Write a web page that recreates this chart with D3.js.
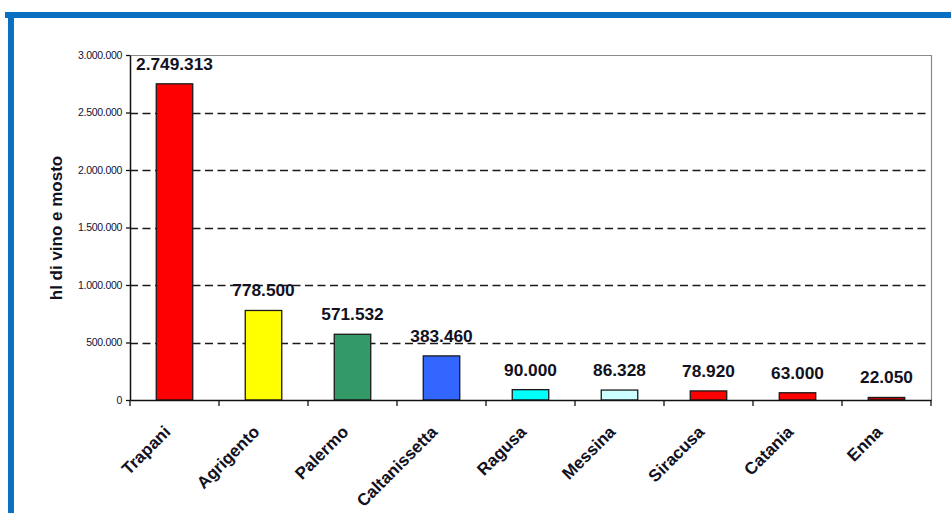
<!DOCTYPE html>
<html>
<head>
<meta charset="utf-8">
<script src="https://cdn.jsdelivr.net/npm/d3@7"></script>
<style>
  html, body { margin: 0; padding: 0; background: #fff; }
  svg { display: block; font-family: Arial, "Liberation Sans", sans-serif; }
</style>
</head>
<body>
<svg id="chart" width="951" height="513"></svg>
<script>
// Wine and must production by province (hl)
const provinces = ["Trapani", "Agrigento", "Palermo", "Caltanissetta", "Ragusa", "Messina", "Siracusa", "Catania", "Enna"];
const production = [2749313, 778500, 571532, 383460, 90000, 86328, 78920, 63000, 22050];
const barColors = ["#FF0000", "#FFFF00", "#339966", "#3366FF", "#00FFFF", "#CCFFFF", "#FF0000", "#FF0000", "#C00000"];
const yTicks = [0, 500000, 1000000, 1500000, 2000000, 2500000, 3000000];
const yTitle = "hl di vino e mosto";

const svg = d3.select("#chart");
const plot = { left: 130, right: 931, top: 55, bottom: 400 };

// Italian-style thousands separator
const fmt = d3.formatLocale({ decimal: ",", thousands: ".", grouping: [3], currency: ["€", ""] }).format(",d");

// Frame
svg.append("rect").attr("x", 5).attr("y", 12).attr("width", 946).attr("height", 6).attr("fill", "#0A70C2");
svg.append("rect").attr("x", 8).attr("y", 12).attr("width", 6).attr("height", 501).attr("fill", "#0A70C2");

const x = d3.scaleBand().domain(provinces).range([plot.left, plot.right]).paddingInner(0.59).paddingOuter(0.295);
const xTickScale = d3.scaleBand().domain(provinces).range([plot.left, plot.right]);
const y = d3.scaleLinear().domain([0, 3000000]).range([plot.bottom, plot.top]);

// Dashed gridlines
svg.append("g").selectAll("line")
  .data(yTicks.filter(t => t > 0 && t < 3000000))
  .join("line")
  .attr("x1", plot.left).attr("x2", plot.right - 3)
  .attr("y1", d => Math.round(y(d)) + 0.5).attr("y2", d => Math.round(y(d)) + 0.5)
  .attr("stroke", "#1a1a1a").attr("stroke-width", 1.4).attr("stroke-dasharray", "8,4.5");

// Plot border (top & right)
svg.append("path")
  .attr("d", `M${plot.left},${plot.top + 0.5}H${plot.right + 0.5}V${plot.bottom}`)
  .attr("fill", "none").attr("stroke", "#8a8a8a").attr("stroke-width", 1.2);

// Bars
svg.append("g").selectAll("rect")
  .data(provinces)
  .join("rect")
  .attr("x", d => x(d))
  .attr("width", x.bandwidth())
  .attr("y", (d, i) => y(production[i]))
  .attr("height", (d, i) => plot.bottom - y(production[i]))
  .attr("fill", (d, i) => barColors[i])
  .attr("stroke", "#1a1a1a").attr("stroke-width", 1.3);

// Value labels
svg.append("g").selectAll("text")
  .data(provinces)
  .join("text")
  .attr("x", d => x(d) + x.bandwidth() / 2)
  .attr("y", (d, i) => y(production[i]) - 14)
  .attr("text-anchor", "middle")
  .attr("font-size", 17.3).attr("font-weight", "bold").attr("fill", "#111122")
  .text((d, i) => fmt(production[i]));

// Y axis
const yAxis = svg.append("g")
  .attr("transform", `translate(${plot.left},0)`)
  .call(d3.axisLeft(y).tickValues(yTicks).tickFormat(fmt).tickSize(4).tickSizeOuter(0));
yAxis.select(".domain").attr("stroke", "#111").attr("stroke-width", 1.5);
yAxis.selectAll(".tick line").attr("stroke", "#111").attr("stroke-width", 1.3);
yAxis.selectAll(".tick text").attr("font-size", 10.5).attr("fill", "#111133").attr("x", -8)
  .attr("font-family", "Arial, 'Liberation Sans', sans-serif").attr("letter-spacing", "-0.3");

// X axis
const xAxis = svg.append("g")
  .attr("transform", `translate(0,${plot.bottom})`)
  .call(d3.axisBottom(xTickScale).tickSize(0).tickFormat(""));
xAxis.select(".domain").attr("stroke", "#111").attr("stroke-width", 1.5);
xAxis.selectAll(".tick").remove();
svg.append("g").selectAll("line")
  .data(d3.range(provinces.length + 1))
  .join("line")
  .attr("x1", i => plot.left + i * xTickScale.step()).attr("x2", i => plot.left + i * xTickScale.step())
  .attr("y1", plot.bottom).attr("y2", plot.bottom + 6)
  .attr("stroke", "#111").attr("stroke-width", 1.3);

// Rotated category labels
svg.append("g").selectAll("text")
  .data(provinces)
  .join("text")
  .attr("transform", d => `translate(${xTickScale(d) + xTickScale.bandwidth() / 2 - 3},${plot.bottom + 33}) rotate(-45)`)
  .attr("text-anchor", "end")
  .attr("font-size", 17).attr("font-weight", "bold").attr("fill", "#111122")
  .text(d => d);

// Y axis title
svg.append("text")
  .attr("transform", `translate(62,228) rotate(-90)`)
  .attr("text-anchor", "middle")
  .attr("font-size", 17).attr("font-weight", "bold").attr("fill", "#111122")
  .text(yTitle);
</script>
</body>
</html>
